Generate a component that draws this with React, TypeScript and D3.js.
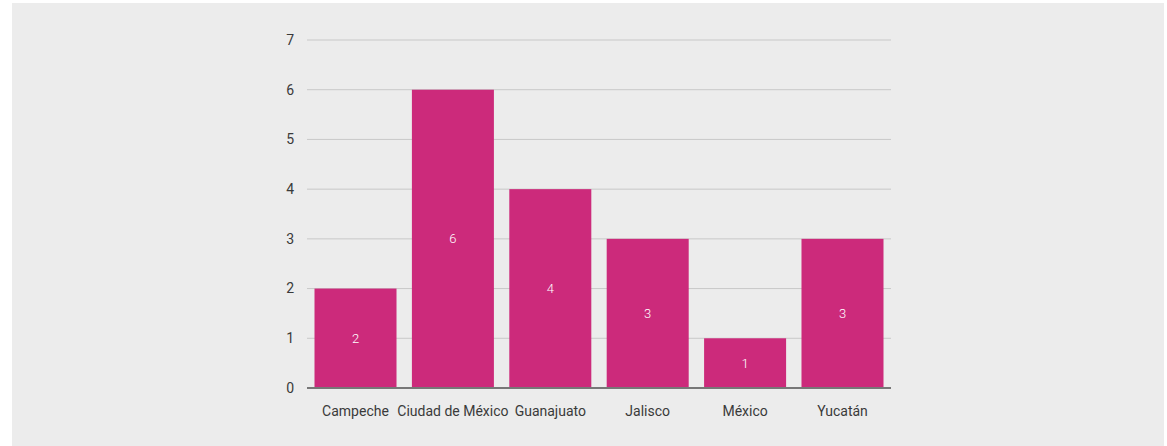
import React from "react";
import * as d3 from "d3";

const categories = ["Campeche", "Ciudad de México", "Guanajuato", "Jalisco", "México", "Yucatán"];
const values = [2, 6, 4, 3, 1, 3];
const yTicks = [0, 1, 2, 3, 4, 5, 6, 7];

const W = 1167;
const H = 446;
const plot = { left: 307, right: 891, top: 40, bottom: 388 };
const FONT = "Roboto, sans-serif";

export default function App() {
  const x = d3
    .scaleBand<string>()
    .domain(categories)
    .range([plot.left, plot.right])
    .paddingInner(0.158)
    .paddingOuter(0.077);
  const y = d3.scaleLinear().domain([0, 7]).range([plot.bottom, plot.top]);

  return (
    <svg
      width={W}
      height={H}
      style={{ position: "absolute", left: 0, top: 0, display: "block" }}
      fontFamily={FONT}
    >
      <rect x={12} y={3} width={1152} height={H} fill="#ececec" />
      {yTicks.map((t) => (
        <g key={t}>
          {t > 0 && (
            <line x1={plot.left} x2={plot.right} y1={y(t)} y2={y(t)} stroke="#c8c8c8" strokeWidth={1} />
          )}
          <text
            x={294}
            y={y(t)}
            dy="0.35em"
            textAnchor="end"
            fontSize={14}
            fontWeight={400}
            fill="#3a3a3a"
          >
            {t}
          </text>
        </g>
      ))}
      {categories.map((c, i) => (
        <g key={c}>
          <rect
            x={x(c)}
            y={y(values[i])}
            width={x.bandwidth()}
            height={y(0) - y(values[i])}
            fill="#cc2a7b"
          />
          <text
            x={(x(c) as number) + x.bandwidth() / 2}
            y={(y(values[i]) + y(0)) / 2}
            dy="0.35em"
            textAnchor="middle"
            fontSize={13}
            fontWeight={300}
            fill="#ffffff"
          >
            {values[i]}
          </text>
          <text
            x={(x(c) as number) + x.bandwidth() / 2}
            y={411}
            dy="0.35em"
            textAnchor="middle"
            fontSize={14}
            fontWeight={400}
            fill="#3a3a3a"
          >
            {c}
          </text>
        </g>
      ))}
      <line x1={plot.left} x2={plot.right} y1={y(0)} y2={y(0)} stroke="#777" strokeWidth={2} />
    </svg>
  );
}
